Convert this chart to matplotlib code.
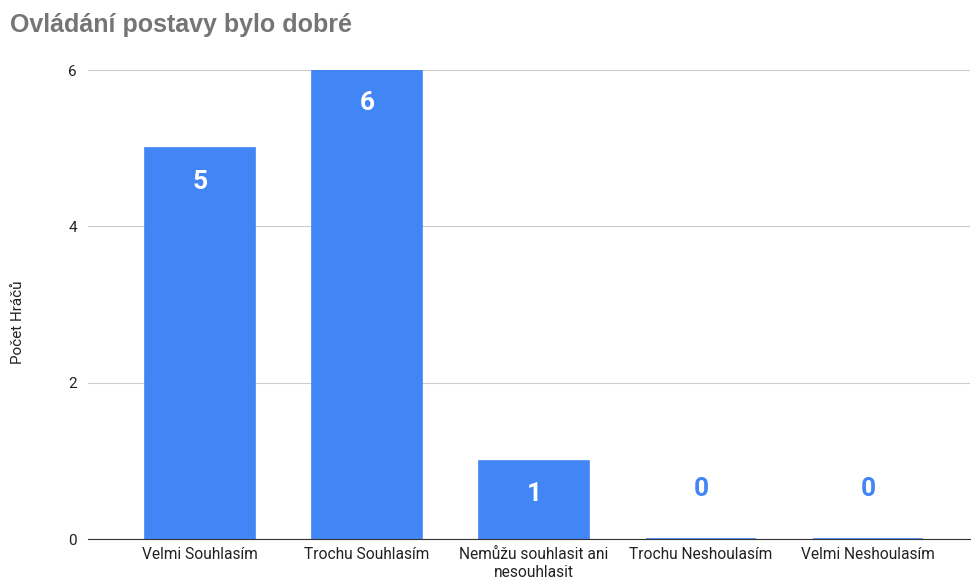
import matplotlib.pyplot as plt
import numpy as np

plt.rcParams['font.family'] = ['Roboto', 'DejaVu Sans']

categories = ["Velmi Souhlasím", "Trochu Souhlasím", "Nemůžu souhlasit ani\nnesouhlasit",
              "Trochu Neshoulasím", "Velmi Neshoulasím"]
counts = [5, 6, 1, 0, 0]
y_ticks = [0, 2, 4, 6]

BLUE = "#4285F4"

fig = plt.figure(figsize=(9.71, 5.79), dpi=100)
ax = fig.add_axes([0.0906, 0.069, 0.9084, 0.81])

x = np.arange(len(categories))
ax.bar(x, counts, width=0.66, color=BLUE, edgecolor=BLUE, linewidth=1.2, zorder=3)

# value labels: white inside the bar, blue above it when the bar is empty
for xi, v in zip(x, counts):
    if v > 0:
        ax.annotate(str(v), (xi, v), xytext=(0, -24), textcoords="offset points",
                    ha="center", va="center", color="white", fontsize=19,
                    fontweight="bold", zorder=4)
    else:
        ax.annotate(str(v), (xi, v), xytext=(0, 36), textcoords="offset points",
                    ha="center", va="center", color=BLUE, fontsize=19,
                    fontweight="bold", zorder=4)

ax.set_xlim(-0.67, 4.61)
ax.set_ylim(0, 6)
ax.set_yticks(y_ticks)
ax.set_xticks(x)
ax.set_xticklabels(categories, fontsize=11.2, color="#222222", linespacing=1.2)
ax.tick_params(axis="y", length=0, labelsize=11, labelcolor="#222222", pad=8)
ax.tick_params(axis="x", length=0, pad=6)
ax.grid(axis="y", color="#cccccc", linewidth=0.8, zorder=0)
for s in ["top", "right", "left"]:
    ax.spines[s].set_visible(False)
ax.spines["bottom"].set_color("#333333")
ax.spines["bottom"].set_zorder(5)

fig.text(18 / 971, 1 - 322 / 579, "Počet Hráčů", fontsize=11, color="#222222",
         rotation=90, ha="center", va="center")

fig.text(0.0103, 0.957, "Ovládání postavy bylo dobré", fontsize=18, fontweight="bold",
         color="#757575", ha="left", va="center", family=["Liberation Sans", "DejaVu Sans"])

fig.savefig("out.png", dpi=100)
